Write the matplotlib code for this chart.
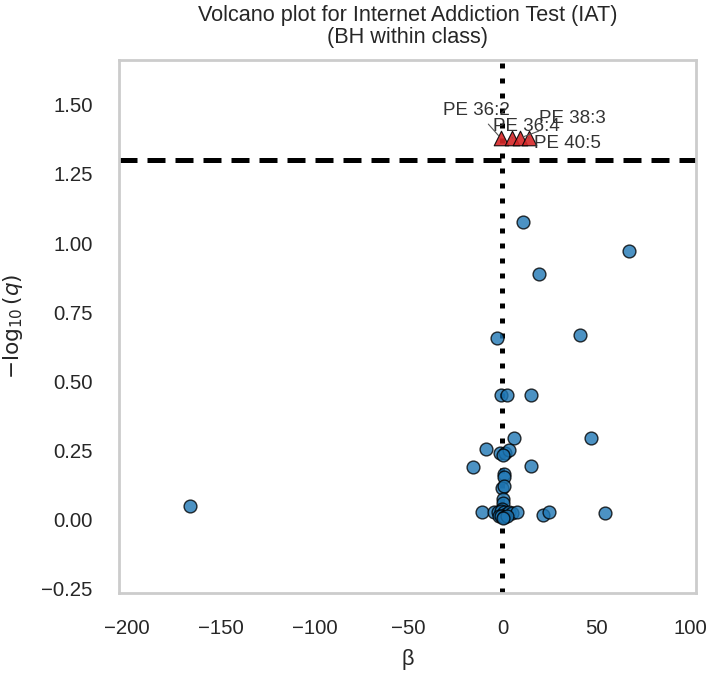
import matplotlib
matplotlib.use("Agg")
import matplotlib.pyplot as plt

# blue points: not significant after BH correction
beta = [-166.0, 11.0, 67.2, 19.3, -2.8, 41.5, -0.5, 2.5, 15.0, 6.0,
        47.3, -9.0, -1.5, 1.6, 3.6, 0.5, -15.7, 15.1, 0.8, 1.1,
        -0.2, 0.7, 0.2, 0.4, 0.0, -10.8, -4.6, -2.5, -1.0, 0.7,
        2.0, 3.4, 5.0, 7.8, -2.0, -0.5, 1.0, 2.5, 0.3, 21.8,
        24.6, 54.6]
neglogq = [0.048, 1.077, 0.971, 0.889, 0.656, 0.668, 0.450, 0.450, 0.450, 0.294,
           0.294, 0.254, 0.240, 0.242, 0.252, 0.235, 0.192, 0.194, 0.166, 0.154,
           0.114, 0.123, 0.076, 0.060, 0.040, 0.028, 0.027, 0.026, 0.030, 0.026,
           0.022, 0.028, 0.025, 0.028, 0.014, 0.012, 0.010, 0.015, 0.005, 0.017,
           0.026, 0.024]

# red triangles: significant lipids
sig_names = ["PE 36:2", "PE 36:4", "PE 38:3", "PE 40:5"]
sig_beta = [-1.0, 5.2, 9.6, 14.0]
sig_neglogq = [1.38, 1.38, 1.38, 1.38]
label_pos = [(-13.8, 1.478), (12.8, 1.421), (37.0, 1.449), (34.8, 1.359)]

q_thresh = 1.30103  # -log10(0.05)

plt.rcParams["font.family"] = ["Liberation Sans", "DejaVu Sans"]

fig = plt.figure(figsize=(7.11, 6.74), dpi=100)
ax = fig.add_axes([0.1674, 0.1202, 0.8115, 0.791])

ax.scatter(beta, neglogq, s=85, color="#1f77b4", alpha=0.8,
           edgecolor="black", linewidth=1.0, zorder=3)
ax.scatter(sig_beta, sig_neglogq, s=110, marker="^", color="#d62728",
           alpha=0.9, edgecolor="black", linewidth=0.8, zorder=4)

for name, b, y, (tx, ty) in zip(sig_names, sig_beta, sig_neglogq, label_pos):
    ax.annotate(name, xy=(b, y), xytext=(tx, ty), ha="center", va="center",
                fontsize=13.5, color="#333333", zorder=5,
                arrowprops=dict(arrowstyle="-", color="#555555", lw=0.8))

ax.axhline(q_thresh, color="black", lw=3.6, linestyle=(0, (3.6, 2.0)), zorder=2)
ax.axvline(0, color="black", lw=3.6, linestyle=(0, (1, 2)), zorder=2)

ax.set_xlim(-204, 103)
ax.set_ylim(-0.265, 1.662)
ax.set_xticks([-200, -150, -100, -50, 0, 50, 100])
ax.set_yticks([-0.25, 0.0, 0.25, 0.5, 0.75, 1.0, 1.25, 1.5])
ax.set_yticklabels([f"{v:.2f}".replace("-", "\u2212") for v in ax.get_yticks()])

ax.tick_params(axis="both", length=0, labelsize=14.7, labelcolor="#262626")
ax.tick_params(axis="y", pad=19)
ax.tick_params(axis="x", pad=19)
for sp in ax.spines.values():
    sp.set_color("#cccccc")
    sp.set_linewidth(2)

ax.set_xlabel("β", fontsize=15.6, color="#262626", labelpad=8)
ax.set_ylabel(r"$-\log_{10}(q)$", fontsize=15.6, color="#262626", labelpad=12)
ax.set_title("Volcano plot for Internet Addiction Test (IAT)\n(BH within class)",
             fontsize=15.6, color="#262626", pad=12, linespacing=1.1)

fig.savefig("out.png", dpi=100)
